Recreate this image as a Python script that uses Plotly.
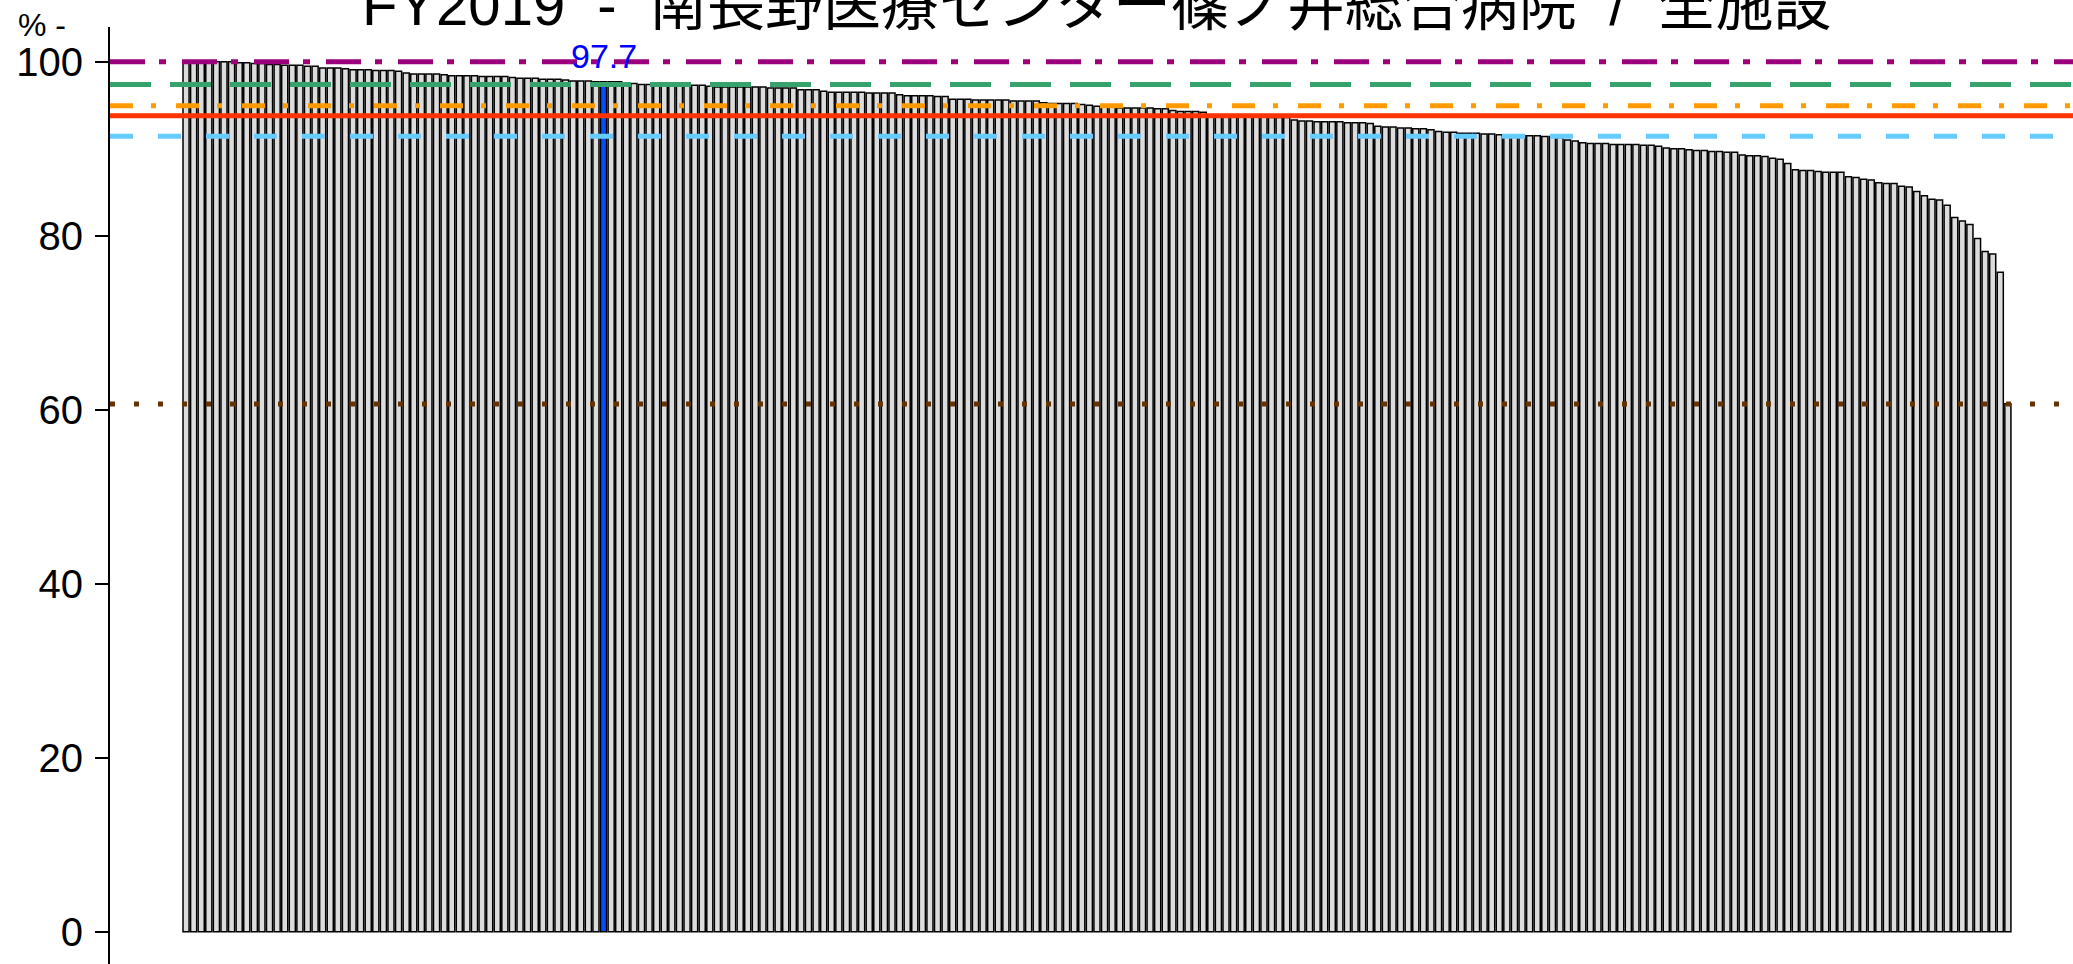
import plotly.graph_objects as go

# FY2019 rates per facility, sorted descending
title_text = "FY2019\u00a0 -\u00a0 南長野医療センター篠ノ井総合病院\u00a0 /\u00a0 全施設"
rates = [
    100.0, 100.0, 100.0, 100.0, 100.0, 100.0, 100.0, 99.9, 99.9, 99.8, 99.8, 99.7,
    99.7, 99.6, 99.6, 99.6, 99.5, 99.5, 99.3, 99.3, 99.3,
    99.2, 99.1, 99.1, 99.1, 99.0, 99.0, 99.0, 98.9,
    98.7, 98.6, 98.6, 98.6, 98.6, 98.5,
    98.4, 98.4, 98.4, 98.4, 98.3, 98.3, 98.3, 98.3,
    98.2, 98.1, 98.1, 98.1, 98.0, 98.0, 98.0, 97.9,
    97.8, 97.8, 97.8, 97.7, 97.7, 97.7, 97.7, 97.6,
    97.5, 97.4, 97.4, 97.4, 97.4, 97.3, 97.3, 97.3, 97.3, 97.3,
    97.2, 97.1, 97.1, 97.1, 97.1, 97.1, 97.1, 97.1, 97.0, 97.0, 97.0, 97.0,
    96.8, 96.8, 96.8,
    96.6, 96.5, 96.5, 96.5, 96.5, 96.5, 96.4, 96.4, 96.4, 96.4,
    96.2, 96.1, 96.1, 96.1, 96.1, 96.0, 96.0,
    95.7, 95.7, 95.7, 95.6, 95.6, 95.6, 95.6, 95.6, 95.5, 95.5, 95.5, 95.5,
    95.3, 95.2, 95.2, 95.2, 95.2, 95.1, 95.0, 94.9,
    94.8, 94.8, 94.7, 94.7, 94.7, 94.7, 94.7, 94.6, 94.6,
    94.4, 94.3, 94.3, 94.3, 94.2,
    93.9, 93.8, 93.8, 93.7, 93.7, 93.7, 93.7, 93.7, 93.6, 93.6, 93.6,
    93.3, 93.2, 93.2, 93.1, 93.1, 93.1, 93.1, 93.0, 93.0, 93.0, 92.9,
    92.6, 92.5, 92.5, 92.4, 92.4, 92.3, 92.3, 92.2,
    92.0, 91.9, 91.9, 91.8, 91.8, 91.8, 91.7, 91.7,
    91.6, 91.6, 91.5, 91.5, 91.5, 91.5, 91.4, 91.4, 91.3,
    91.0, 90.9, 90.7, 90.6, 90.6, 90.6, 90.5, 90.5, 90.5, 90.5, 90.4, 90.4, 90.3,
    90.1, 90.0, 90.0, 89.9, 89.8, 89.8, 89.7, 89.7, 89.6, 89.6,
    89.3, 89.2, 89.2, 89.1, 88.9, 88.8, 88.3,
    87.6, 87.5, 87.5, 87.4, 87.3, 87.3, 87.3,
    86.8, 86.7, 86.5, 86.4, 86.1, 86.0, 86.0, 85.7, 85.6,
    85.1, 84.6, 84.2, 84.1, 83.5, 82.1, 81.7, 81.3, 79.7, 78.2, 77.9, 75.8, 60.7,
]
own_index = 55
own_label = "97.7"

# reference lines: max, percentiles, mean, min
ref_levels = [100.0, 97.4, 94.95, 93.8, 91.45, 60.65]
ref_colors = ["#9b007c", "#37a36c", "#ff9b00", "#ff3300", "#66ccff", "#663300"]
ref_dashes = ["35px,14px,7px,16px", "41px,19px", "23px,18px,5px,20px",
              "solid", "23px,25px", "5px,19px"]
y_ticks = [0, 20, 40, 60, 80, 100]

W, H = 2073, 964
left, top = 110, 27
px_per_unit = 7.591
n = len(rates)
x_lo = -0.4 - (183 - left) / px_per_unit
x_hi = x_lo + (W - left) / px_per_unit
y_lo = -3.71
y_hi = 104.0

fill = ["#0050ff" if i == own_index else "#dcdcdc" for i in range(n)]

fig = go.Figure(go.Bar(
    x=list(range(n)), y=rates,
    marker=dict(color=fill, line=dict(color="black", width=1.5)),
    hoverinfo="y",
))

shapes = []
for lv, col, ds in zip(ref_levels, ref_colors, ref_dashes):
    shapes.append(dict(type="line", xref="paper", x0=0, x1=1, yref="y", y0=lv, y1=lv,
                       line=dict(color=col, width=5, dash=ds), layer="above"))

annotations = [
    dict(x=own_index, y=rates[own_index] + 3, xref="x", yref="y", text=own_label,
         showarrow=False, font=dict(size=34, color="#0000ff", family="Liberation Sans")),
    dict(x=(1097 - left) / (W - left), y=1 + (top - 5) / (H - top), xref="paper", yref="paper",
         text=title_text, showarrow=False, xanchor="center", yanchor="middle",
         font=dict(size=58, color="black", family="Liberation Sans, Noto Sans CJK JP")),
    dict(x=(42 - left) / (W - left), y=1 + (top - 25) / (H - top), xref="paper", yref="paper",
         text="% -", showarrow=False, xanchor="center", yanchor="middle",
         font=dict(size=32, color="black", family="Liberation Sans Narrow, Liberation Sans")),
]

fig.update_layout(
    width=W, height=H,
    margin=dict(l=left, r=0, t=top, b=0),
    paper_bgcolor="white", plot_bgcolor="white",
    showlegend=False, bargap=0.2,
    xaxis=dict(range=[x_lo, x_hi], visible=False),
    yaxis=dict(range=[y_lo, y_hi], tickvals=y_ticks, ticks="outside", ticklen=13,
               tickwidth=2, tickcolor="black", showline=True, linecolor="black",
               linewidth=2, showgrid=False, zeroline=False, ticklabelstandoff=4,
               tickfont=dict(size=40, color="black",
                             family="Liberation Sans Narrow, Liberation Sans")),
    shapes=shapes,
    annotations=annotations,
)

fig.write_html("out.html", config={"displayModeBar": False},
               post_script="document.body.style.margin='0';")
